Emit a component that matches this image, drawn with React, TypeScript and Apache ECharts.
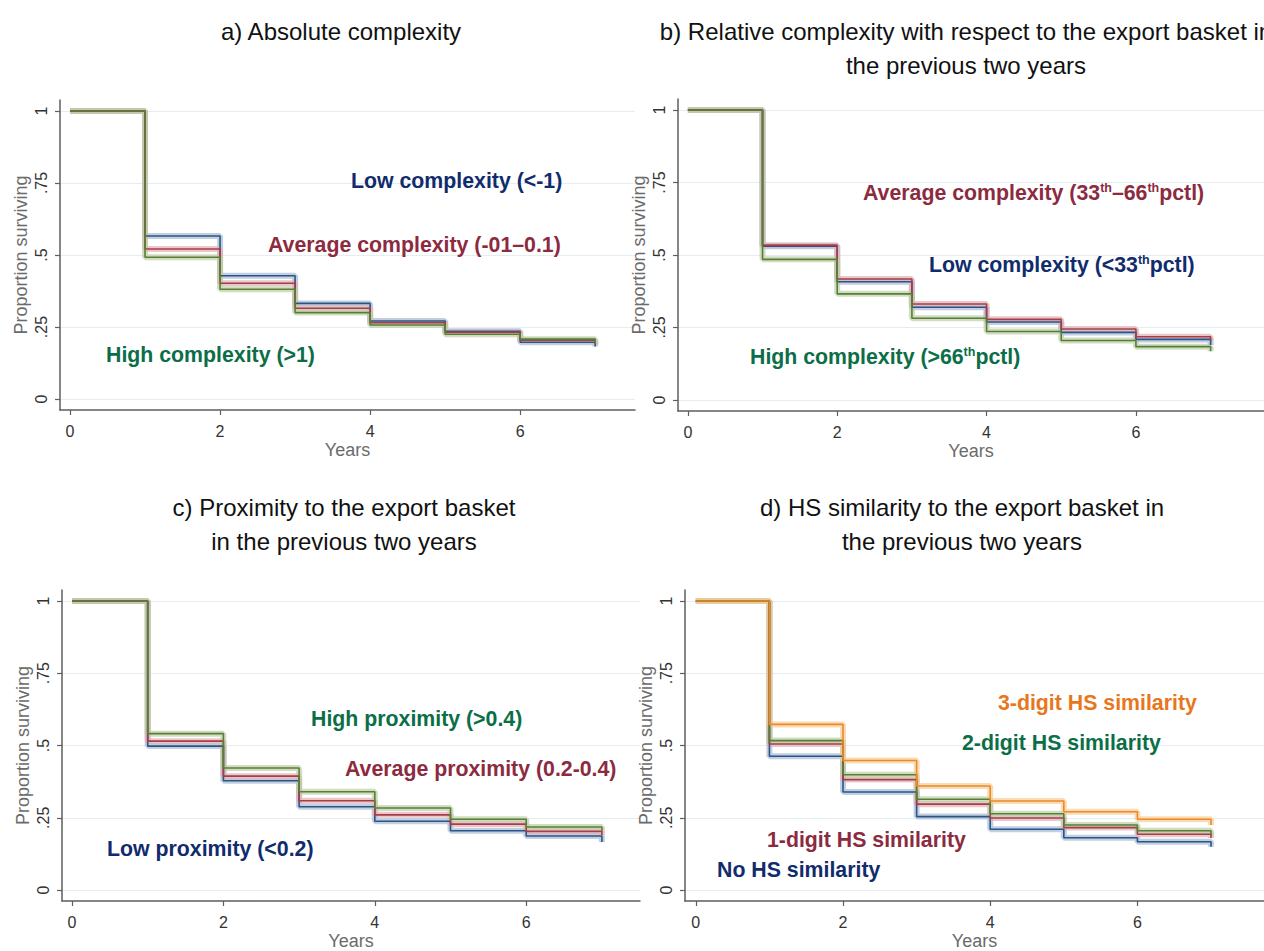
import React, { useEffect, useRef } from 'react';
import * as echarts from 'echarts';

// ---- data ----
const years = [0, 1, 2, 3, 4, 5, 6, 7];
const yTicks = [0, 0.25, 0.5, 0.75, 1];
const xTicks = [0, 2, 4, 6];

// a) Absolute complexity
const aLow = [1, 0.566, 0.428, 0.332, 0.271, 0.235, 0.197, 0.182];
const aAvg = [1, 0.521, 0.402, 0.315, 0.265, 0.232, 0.204, 0.19];
const aHigh = [1, 0.492, 0.381, 0.3, 0.257, 0.225, 0.208, 0.192];

// b) Relative complexity
const bLow = [1, 0.53, 0.408, 0.32, 0.269, 0.233, 0.209, 0.19];
const bAvg = [1, 0.534, 0.417, 0.331, 0.278, 0.245, 0.218, 0.205];
const bHigh = [1, 0.485, 0.366, 0.282, 0.236, 0.205, 0.184, 0.168];

// c) Proximity
const cLow = [1, 0.498, 0.378, 0.288, 0.238, 0.205, 0.187, 0.166];
const cAvg = [1, 0.515, 0.394, 0.309, 0.26, 0.228, 0.203, 0.19];
const cHigh = [1, 0.541, 0.422, 0.34, 0.284, 0.245, 0.218, 0.205];

// d) HS similarity
const dNo = [1, 0.463, 0.339, 0.254, 0.21, 0.181, 0.167, 0.15];
const d1 = [1, 0.505, 0.382, 0.297, 0.249, 0.216, 0.193, 0.18];
const d2 = [1, 0.517, 0.399, 0.314, 0.264, 0.225, 0.205, 0.19];
const d3 = [1, 0.573, 0.448, 0.36, 0.308, 0.271, 0.245, 0.225];

const titleA = ['a) Absolute complexity'];
const titleB = ['b) Relative complexity with respect to the export basket in', 'the previous two years'];
const titleC = ['c) Proximity to the export basket', 'in the previous two years'];
const titleD = ['d) HS similarity to the export basket in', 'the previous two years'];

// ---- styles ----
const LINE = { navy: '#2a5587', maroon: '#a83c48', green: '#587f36', orange: '#ec8a24' };
const BAND = { navy: '#a7bad3', maroon: '#e0b0b6', green: '#bccfa6', orange: '#f7cc98' };
const TEXT = { navy: '#112c6c', maroon: '#8c2a40', green: '#0b6e47', orange: '#e8761c' };

const FONT = '"Liberation Sans", Arial, sans-serif';
const YMIN = -0.038;
const YMAX = 1.038;

const panels = [
  { left: 60, top: 100, width: 575, height: 310, xmin: -0.133, xmax: 7.53 },
  { left: 678, top: 99, width: 594, height: 312, xmin: -0.132, xmax: 7.715 },
  { left: 62, top: 590, width: 578, height: 312, xmin: -0.132, xmax: 7.503 },
  { left: 685, top: 590, width: 590, height: 312, xmin: -0.147, xmax: 7.72 },
];

const panelSeries: { vals: number[]; c: keyof typeof LINE }[][] = [
  [
    { vals: aLow, c: 'navy' },
    { vals: aAvg, c: 'maroon' },
    { vals: aHigh, c: 'green' },
  ],
  [
    { vals: bLow, c: 'navy' },
    { vals: bAvg, c: 'maroon' },
    { vals: bHigh, c: 'green' },
  ],
  [
    { vals: cLow, c: 'navy' },
    { vals: cAvg, c: 'maroon' },
    { vals: cHigh, c: 'green' },
  ],
  [
    { vals: dNo, c: 'navy' },
    { vals: d1, c: 'maroon' },
    { vals: d2, c: 'green' },
    { vals: d3, c: 'orange' },
  ],
];

const fmtY = (v: number) => {
  if (v === 0) return '0';
  if (v === 1) return '1';
  return String(v).replace(/^0/, '');
};

function buildOption() {
  const grid: any[] = [];
  const xAxis: any[] = [];
  const yAxis: any[] = [];
  const series: any[] = [];
  panels.forEach((p, i) => {
    grid.push({ left: p.left, top: p.top, width: p.width, height: p.height, containLabel: false });
    xAxis.push({
      type: 'value',
      gridIndex: i,
      min: p.xmin,
      max: p.xmax,
      name: 'Years',
      nameLocation: 'middle',
      nameGap: 31,
      nameTextStyle: { color: '#6b6b6b', fontSize: 18, fontFamily: FONT },
      axisLine: { show: true, onZero: false, lineStyle: { color: '#5e5e5e', width: 1.5 } },
      axisTick: { show: true, length: 5, customValues: xTicks, lineStyle: { color: '#5e5e5e', width: 1.2 } },
      axisLabel: { customValues: xTicks, margin: 13, color: '#333', fontSize: 16, fontFamily: FONT },
      splitLine: { show: false },
    });
    yAxis.push({
      type: 'value',
      gridIndex: i,
      min: YMIN,
      max: YMAX,
      name: 'Proportion surviving',
      nameLocation: 'middle',
      nameGap: 30,
      nameTextStyle: { color: '#6b6b6b', fontSize: 18, fontFamily: FONT },
      axisLine: { show: true, onZero: false, lineStyle: { color: '#5e5e5e', width: 1.5 } },
      axisTick: { show: true, length: 5, customValues: yTicks, lineStyle: { color: '#5e5e5e', width: 1.2 } },
      axisLabel: {
        customValues: yTicks,
        rotate: 90,
        margin: 11,
        color: '#333',
        fontSize: 16,
        fontFamily: FONT,
        formatter: fmtY,
      },
      splitLine: { show: true, lineStyle: { color: '#e4edf1', width: 1.2 } },
    });
    panelSeries[i].forEach((s) => {
      const data = years.map((t, k) => [t, s.vals[k]]);
      series.push({
        type: 'line',
        xAxisIndex: i,
        yAxisIndex: i,
        step: 'end',
        symbol: 'none',
        silent: true,
        data,
        lineStyle: { color: BAND[s.c], width: 6, opacity: 0.7 },
        z: 2,
      });
    });
    panelSeries[i].forEach((s) => {
      const data = years.map((t, k) => [t, s.vals[k]]);
      series.push({
        type: 'line',
        xAxisIndex: i,
        yAxisIndex: i,
        step: 'end',
        symbol: 'none',
        silent: true,
        data,
        lineStyle: { color: LINE[s.c], width: 1.6 },
        z: 3,
      });
    });
  });

  const titleText = (lines: string[], cx: number, y0: number) =>
    lines.map((t, k) => ({
      type: 'text',
      x: cx,
      y: y0 + k * 34,
      style: {
        text: t,
        fill: '#111',
        font: `24px ${FONT}`,
        textAlign: 'center',
        textVerticalAlign: 'middle',
      },
    }));

  const ANN = 21.3;
  const ann = (text: string, x: number, y: number, color: string) => ({
    type: 'text',
    x,
    y,
    z: 10,
    style: {
      text,
      fill: color,
      font: `bold ${ANN}px ${FONT}`,
      textAlign: 'left',
      textVerticalAlign: 'middle',
    },
  });

  const richAnn = (text: string, x: number, y: number, color: string) => ({
    type: 'text',
    x,
    y,
    z: 10,
    style: {
      text,
      fill: color,
      textAlign: 'left',
      textVerticalAlign: 'middle',
      rich: {
        n: { fontSize: ANN, fontWeight: 'bold', fontFamily: FONT, fill: color, lineHeight: 24 },
        s: { fontSize: 12.5, fontWeight: 'bold', fontFamily: FONT, fill: color, verticalAlign: 'top', lineHeight: 24 },
      },
    },
  });

  const graphic: any[] = [
    ...titleText(titleA, 341, 31),
    ...titleText(titleB, 966, 31),
    ...titleText(titleC, 344, 507),
    ...titleText(titleD, 962, 507),
    ann('Low complexity (<-1)', 351, 181, TEXT.navy),
    ann('Average complexity (-01\u20130.1)', 268, 245, TEXT.maroon),
    ann('High complexity (>1)', 106, 355, TEXT.green),
    richAnn('{n|Average complexity (33}{s|th}{n|\u201366}{s|th}{n|pctl)}', 863, 193, TEXT.maroon),
    richAnn('{n|Low complexity (<33}{s|th}{n|pctl)}', 929, 265, TEXT.navy),
    richAnn('{n|High complexity (>66}{s|th}{n|pctl)}', 750, 357, TEXT.green),
    ann('High proximity (>0.4)', 311, 719, TEXT.green),
    ann('Average proximity (0.2-0.4)', 345, 769, TEXT.maroon),
    ann('Low proximity (<0.2)', 107, 849, TEXT.navy),
    ann('3-digit HS similarity', 998, 703, TEXT.orange),
    ann('2-digit HS similarity', 962, 743, TEXT.green),
    ann('1-digit HS similarity', 767, 840, TEXT.maroon),
    ann('No HS similarity', 717, 870, TEXT.navy),
  ];

  return {
    animation: false,
    backgroundColor: '#ffffff',
    grid,
    xAxis,
    yAxis,
    series,
    graphic,
  };
}

export default function App() {
  const ref = useRef<HTMLDivElement>(null);
  useEffect(() => {
    if (!ref.current) return;
    const chart = echarts.init(ref.current, null, { renderer: 'svg' });
    chart.setOption(buildOption() as any);
    return () => chart.dispose();
  }, []);
  return (
    <div
      ref={ref}
      style={{ position: 'fixed', left: 0, top: 0, width: 1264, height: 951, background: '#fff' }}
    />
  );
}
